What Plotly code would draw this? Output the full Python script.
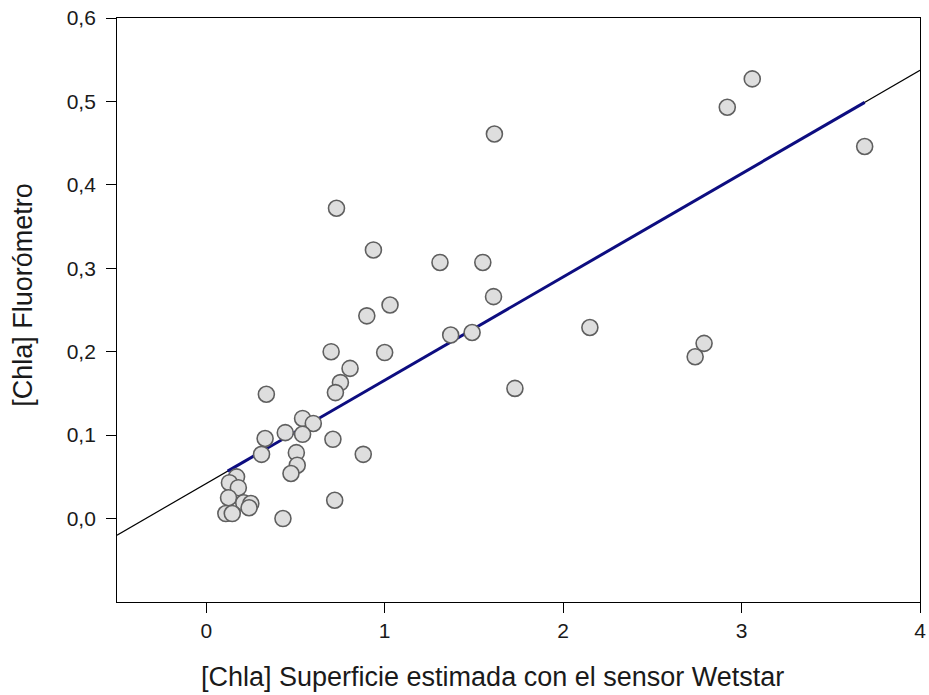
import plotly.graph_objects as go

chl_wetstar = [3.06, 2.92, 3.69, 1.615, 2.15, 1.73, 2.74, 2.79,
               0.73, 0.937, 1.31, 1.55, 1.61, 1.03, 0.90, 1.37, 1.49, 0.70, 1.00,
               0.337, 0.806, 0.752, 0.724, 0.54, 0.60, 0.54, 0.443, 0.33, 0.71,
               0.88, 0.31, 0.505, 0.51, 0.475, 0.72, 0.43, 0.17, 0.13, 0.18,
               0.125, 0.21, 0.25, 0.24, 0.11, 0.146]
chl_fluor = [0.527, 0.493, 0.446, 0.461, 0.229, 0.156, 0.194, 0.210,
             0.372, 0.322, 0.307, 0.307, 0.266, 0.256, 0.243, 0.220, 0.223, 0.200, 0.199,
             0.149, 0.180, 0.163, 0.151, 0.120, 0.114, 0.101, 0.103, 0.096, 0.095,
             0.077, 0.077, 0.079, 0.064, 0.054, 0.022, 0.000, 0.050, 0.043, 0.037,
             0.025, 0.019, 0.018, 0.013, 0.006, 0.006]

# Regression line parameters
fit_intercept = 0.042
fit_slope = 0.1238
fit_full_x = [-0.5, 4.0]
fit_data_x = [0.12, 3.69]

x_ticks = [0, 1, 2, 3, 4]
x_ticklabels = ["0", "1", "2", "3", "4"]
y_ticks = [0.0, 0.1, 0.2, 0.3, 0.4, 0.5, 0.6]
y_ticklabels = ["0,0", "0,1", "0,2", "0,3", "0,4", "0,5", "0,6"]

x_title = "[Chla] Superficie estimada con el sensor Wetstar"
y_title = "[Chla] Fluorómetro"

fig = go.Figure()
fig.add_trace(go.Scatter(
    x=fit_full_x, y=[fit_intercept + fit_slope * v for v in fit_full_x],
    mode="lines", line=dict(color="black", width=1.2), hoverinfo="skip"))
fig.add_trace(go.Scatter(
    x=fit_data_x, y=[fit_intercept + fit_slope * v for v in fit_data_x],
    mode="lines", line=dict(color="#0d0d80", width=3), hoverinfo="skip"))
fig.add_trace(go.Scatter(
    x=chl_wetstar, y=chl_fluor, mode="markers",
    marker=dict(size=16, color="#dedede", line=dict(color="#5f5f5f", width=1.6))))

font_family = "Liberation Sans, Arial, sans-serif"
fig.update_layout(
    width=929, height=695,
    margin=dict(l=117, r=9, t=18, b=93),
    paper_bgcolor="white", plot_bgcolor="white",
    showlegend=False,
    font=dict(family=font_family, color="#1a1a1a"),
    xaxis=dict(range=[-0.5, 4.0], tickvals=x_ticks, ticktext=x_ticklabels,
               ticks="outside", ticklen=10, tickwidth=1, tickcolor="black",
               showline=True, linecolor="black", linewidth=1.2, mirror=True,
               showgrid=False, zeroline=False, automargin=False,
               ticklabeloverflow="allow",
               tickfont=dict(size=21, family=font_family)),
    yaxis=dict(range=[-0.1, 0.6], tickvals=y_ticks,
               ticktext=[t + " " for t in y_ticklabels],
               ticks="outside", ticklen=10, tickwidth=1, tickcolor="black",
               showline=True, linecolor="black", linewidth=1.2, mirror=True,
               showgrid=False, zeroline=False, automargin=False,
               tickfont=dict(size=21, family=font_family)),
    annotations=[
        dict(text=x_title, xref="paper", yref="paper", x=0.468, y=-0.1284,
             xanchor="center", yanchor="middle", showarrow=False,
             font=dict(size=27, family=font_family, color="#1a1a1a")),
        dict(text=y_title, xref="paper", yref="paper", x=-0.117, y=0.526,
             xanchor="center", yanchor="middle", showarrow=False, textangle=-90,
             font=dict(size=27, family=font_family, color="#1a1a1a")),
    ],
)

fig.write_html("out.html",
               config={"displayModeBar": False},
               post_script="document.body.style.margin='0';document.body.style.overflow='hidden';")
